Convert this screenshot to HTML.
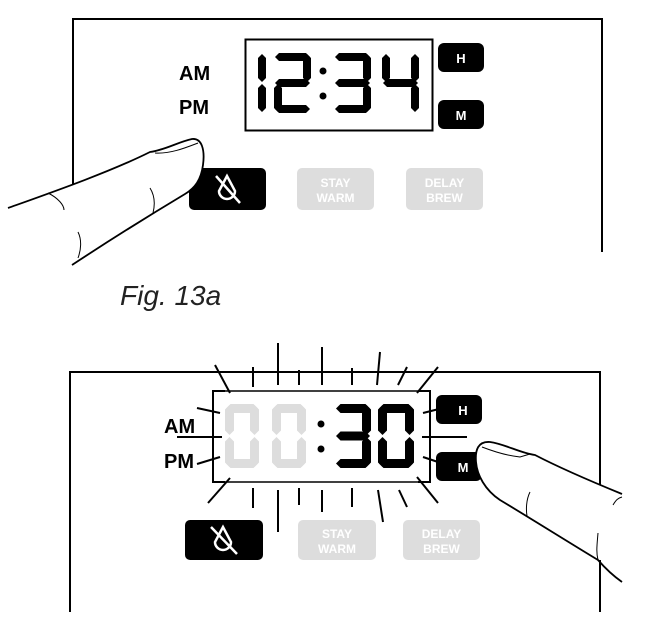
<!DOCTYPE html>
<html><head><style>
html,body{margin:0;padding:0;background:#fff;width:657px;height:640px;overflow:hidden}
svg{display:block}
.t{font-family:"Liberation Sans",sans-serif;font-weight:bold}
</style></head><body>
<svg id="s" width="657" height="640" viewBox="0 0 657 640" xmlns="http://www.w3.org/2000/svg">
<g stroke="#000" stroke-width="2" fill="none">
<polyline points="73,184 73,19 602,19 602,252"/>
<rect x="245.5" y="39.5" width="187" height="91"/>
<polyline points="70,612 70,372 600,372 600,612"/>
<polyline points="225,391 213,391 213,482 225,482"/>
<polyline points="418,391 430,391 430,482 418,482"/>
<line x1="225" y1="391" x2="418" y2="391" stroke-width="1.5"/>
<line x1="225" y1="482" x2="418" y2="482" stroke-width="1.5"/>
<g stroke-width="2">
<line x1="215" y1="365" x2="230" y2="393"/><line x1="253" y1="367" x2="253" y2="387"/>
<line x1="278" y1="343" x2="278" y2="385"/><line x1="299" y1="370" x2="299" y2="385"/>
<line x1="322" y1="347" x2="322" y2="385"/><line x1="352" y1="368" x2="352" y2="385"/>
<line x1="380" y1="352" x2="377" y2="385"/><line x1="407" y1="367" x2="398" y2="385"/>
<line x1="438" y1="367" x2="417" y2="393"/>
<line x1="230" y1="478" x2="208" y2="503"/><line x1="253" y1="488" x2="253" y2="508"/>
<line x1="278" y1="490" x2="278" y2="532"/><line x1="299" y1="488" x2="299" y2="505"/>
<line x1="322" y1="490" x2="322" y2="512"/><line x1="352" y1="488" x2="352" y2="507"/>
<line x1="378" y1="490" x2="383" y2="522"/><line x1="399" y1="490" x2="407" y2="507"/>
<line x1="417" y1="477" x2="438" y2="503"/>
<line x1="197" y1="408" x2="220" y2="413"/><line x1="177" y1="437" x2="222" y2="437"/>
<line x1="197" y1="464" x2="220" y2="457"/>
<line x1="423" y1="413" x2="447" y2="407"/><line x1="422" y1="437" x2="467" y2="437"/>
<line x1="423" y1="457" x2="447" y2="465"/>
</g>
</g>
<text class="t" x="179" y="80" font-size="20">AM</text>
<text class="t" x="179" y="114" font-size="20">PM</text>
<rect x="438" y="43" width="46" height="29" rx="6" fill="#000"/>
<text class="t" x="461" y="63" font-size="13" fill="#fff" text-anchor="middle">H</text>
<rect x="438" y="100" width="46" height="29" rx="6" fill="#000"/>
<text class="t" x="461" y="120" font-size="13" fill="#fff" text-anchor="middle">M</text>
<rect x="189" y="168" width="77" height="42" rx="5" fill="#000"/>
<rect x="297" y="168" width="77" height="42" rx="5" fill="#ddd"/>
<text class="t" x="335.5" y="187" font-size="12" fill="#fff" text-anchor="middle">STAY</text>
<text class="t" x="335.5" y="202" font-size="12" fill="#fff" text-anchor="middle">WARM</text>
<rect x="406" y="168" width="77" height="42" rx="5" fill="#ddd"/>
<text class="t" x="444.5" y="187" font-size="12" fill="#fff" text-anchor="middle">DELAY</text>
<text class="t" x="444.5" y="202" font-size="12" fill="#fff" text-anchor="middle">BREW</text>
<g fill="none" stroke="#fff" stroke-width="2.5"><path d="M227 176 L219 191 A8 8 0 1 0 235 191 Z"/><line x1="216" y1="176" x2="240" y2="203"/></g>

<text x="120" y="305" font-family="Liberation Sans,sans-serif" font-style="italic" font-size="28" fill="#222">Fig. 13a</text>

<text class="t" x="164" y="433" font-size="20">AM</text>
<text class="t" x="164" y="468" font-size="20">PM</text>
<rect x="436" y="395" width="46" height="29" rx="6" fill="#000"/>
<text class="t" x="463" y="415" font-size="13" fill="#fff" text-anchor="middle">H</text>
<rect x="436" y="452" width="46" height="29" rx="6" fill="#000"/>
<text class="t" x="463" y="472" font-size="13" fill="#fff" text-anchor="middle">M</text>
<rect x="185" y="520" width="78" height="40" rx="5" fill="#000"/>
<g fill="none" stroke="#fff" stroke-width="2.5"><path d="M223 527 L215 542 A8 8 0 1 0 231 542 Z"/><line x1="211" y1="527" x2="237" y2="554"/></g>
<rect x="298" y="520" width="78" height="40" rx="5" fill="#ddd"/>
<text class="t" x="337" y="538" font-size="12" fill="#fff" text-anchor="middle">STAY</text>
<text class="t" x="337" y="553" font-size="12" fill="#fff" text-anchor="middle">WARM</text>
<rect x="403" y="520" width="77" height="40" rx="5" fill="#ddd"/>
<text class="t" x="441.5" y="538" font-size="12" fill="#fff" text-anchor="middle">DELAY</text>
<text class="t" x="441.5" y="553" font-size="12" fill="#fff" text-anchor="middle">BREW</text>

<g id="digits"></g>
<circle cx="323" cy="71" r="3.5"/><circle cx="323" cy="96" r="3.5"/>
<circle cx="321" cy="424" r="3.5"/><circle cx="321" cy="449" r="3.5"/>

<path d="M8 208 C50 193 110 172 150 152 C165 150 178 142 192 139 C202 138 205 150 203 165 C201 180 195 188 185 194 C150 215 110 240 72 265 L0 265 L0 210 Z" fill="#fff" stroke="none"/>
<path d="M8 208 C50 193 110 172 150 152 C165 150 178 142 192 139 C202 138 205 150 203 165 C201 180 195 188 185 194 C150 215 110 240 72 265" fill="none" stroke="#000" stroke-width="1.8"/>
<path d="M155 153 C170 154 185 148 198 143" fill="none" stroke="#000" stroke-width="1"/>
<path d="M48 193 C58 198 64 205 64 210 M150 188 C155 196 155 205 153 213 M78 232 C82 240 81 250 78 258" fill="none" stroke="#000" stroke-width="1"/>

<path d="M657 495 L622 494 C600 485 560 468 535 455 C520 453 505 444 490 442 C478 441 475 450 476 462 C477 475 485 490 500 500 C530 518 565 540 598 560 C605 568 612 575 622 582 L657 582 Z" fill="#fff" stroke="none"/>
<path d="M622 494 C600 485 560 468 535 455 C520 453 505 444 490 442 C478 441 475 450 476 462 C477 475 485 490 500 500 C530 518 565 540 598 560 C605 568 612 575 622 582" fill="none" stroke="#000" stroke-width="1.8"/>
<path d="M482 447 C495 452 510 456 520 457 L530 454" fill="none" stroke="#000" stroke-width="1"/>
<path d="M530 492 C526 500 526 510 527 516 M598 533 C597 545 596 552 598 560 M613 505 C616 500 618 498 622 497" fill="none" stroke="#000" stroke-width="1"/>
<line x1="600" y1="372" x2="600" y2="483" stroke="#000" stroke-width="2"/>
<line x1="600" y1="560" x2="600" y2="612" stroke="#000" stroke-width="2"/>
</svg>
<script>
var S={0:'abcdef',1:'bc',2:'abged',3:'abgcd',4:'fgbc'};
function seg(x,y,w,h,t,on,col){
 var g=document.getElementById('digits'),ns='http://www.w3.org/2000/svg',hh=h/2,q=t/2,p={};
 function H(x1,yy){return [[x1+1,yy],[x1+q+1,yy-q],[x1+w-q-1,yy-q],[x1+w-1,yy],[x1+w-q-1,yy+q],[x1+q+1,yy+q]];}
 function V(xx,y1,y2){return [[xx,y1+1],[xx+q,y1+q+1],[xx+q,y2-q-1],[xx,y2-1],[xx-q,y2-q-1],[xx-q,y1+q+1]];}
 p.a=H(x,y+q);p.g=H(x,y+hh);p.d=H(x,y+h-q);
 p.f=V(x+q,y,y+hh);p.e=V(x+q,y+hh,y+h);p.b=V(x+w-q,y,y+hh);p.c=V(x+w-q,y+hh,y+h);
 for(var i=0;i<on.length;i++){var e=document.createElementNS(ns,'polygon');
  e.setAttribute('points',p[on[i]].map(function(v){return v.join(',')}).join(' '));e.setAttribute('fill',col);g.appendChild(e);}
}
seg(244,53,22,60,8,'bc','#000');
seg(274,53,37,60,8,S[2],'#000');
seg(334,53,37,60,8,S[3],'#000');
seg(382,53,37,60,8,S[4],'#000');
seg(225,404,34,64,9,S[0],'#ddd');
seg(272,404,34,64,9,S[0],'#ddd');
seg(335,404,36,64,9,S[3],'#000');
seg(378,404,36,64,9,S[0],'#000');
</script>
</body></html>
